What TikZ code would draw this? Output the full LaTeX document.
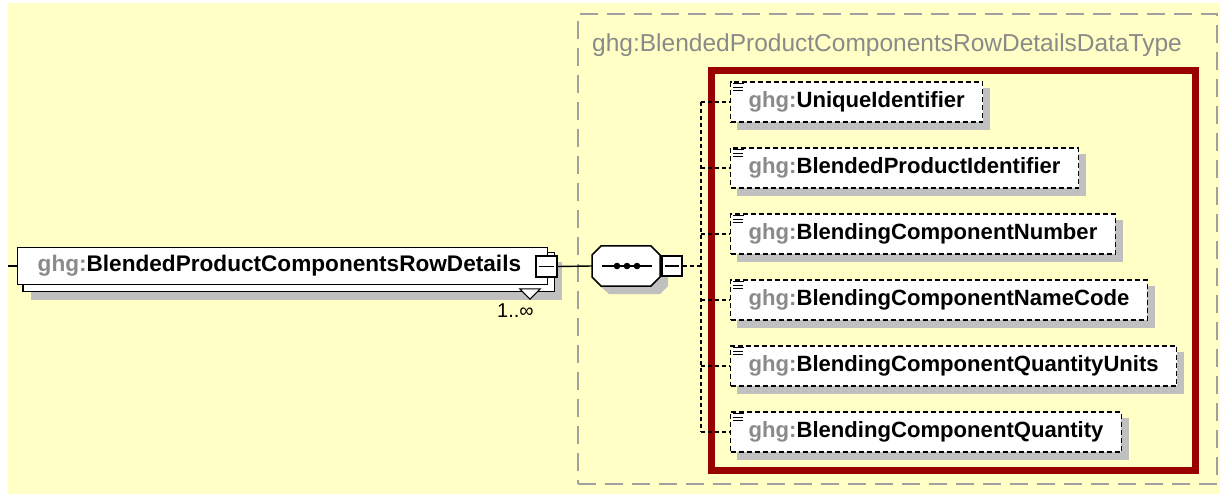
\documentclass[tikz,border=0pt]{standalone}
\usepackage{fontspec}
\setmainfont{Liberation Sans}
\usetikzlibrary{calc}
\definecolor{bgyellow}{HTML}{FFFFC6}
\definecolor{shadowc}{HTML}{C0C0C0}
\definecolor{typegray}{HTML}{A0A0A0}
\definecolor{prefgray}{HTML}{8A8A8A}
\definecolor{seqred}{HTML}{990000}
\pgfdeclarelayer{bg}
\pgfdeclarelayer{shade}
\pgfdeclarelayer{back}
\pgfsetlayers{bg,shade,back,main}
\newcommand{\pfx}{\textcolor{prefgray}{ghg:}}
\tikzset{
  elembox/.style={draw=black, fill=white, line width=1.4, minimum height=37, inner xsep=20, inner ysep=0,
    text width=490, align=left, font=\fontsize{22.6}{26}\selectfont\bfseries},
  childbox/.style={draw=black, fill=white, line width=1.4, dash pattern=on 5 off 3, minimum height=40,
    inner xsep=18, inner ysep=0, anchor=west, font=\fontsize{22.1}{26}\selectfont\bfseries},
  minusbox/.style={draw=black, fill=white, line width=1.4, minimum width=21, minimum height=21, inner sep=0},
  conn/.style={draw=black, line width=1.4},
  dconn/.style={draw=black, line width=1.4, dash pattern=on 4 off 3},
  iconline/.style={draw=black, line width=1.1},
}
\begin{document}
\begin{tikzpicture}[x=1pt,y=-1pt]
\useasboundingbox (0,0) rectangle (1220,494);
\begin{pgfonlayer}{bg}
  \fill[bgyellow] (8,3) rectangle (1220,494);
\end{pgfonlayer}

% type container and sequence border
\node[draw=typegray, line width=2, dash pattern=on 18 off 9, minimum width=639, minimum height=470, inner sep=0] (typebox) at (897.5,249) {};
\node[anchor=west, text=prefgray, font=\fontsize{24.5}{28}\selectfont, inner sep=0] (typetitle) at (592,45) {ghg:BlendedProductComponentsRowDetailsDataType};
\node[draw=seqred, line width=7, minimum width=484, minimum height=399, inner sep=0] (redbox) at (953,270.5) {};

% main element
\node[elembox, anchor=west] (main) at (17,266) {\pfx BlendedProductComponentsRowDetails};
\begin{pgfonlayer}{back}
  \filldraw[fill=white, draw=black, line width=1.4] ($(main.south west)+(6,6)$) rectangle ($(main.north east)+(6,6)$);
\end{pgfonlayer}
\begin{pgfonlayer}{shade}
  \fill[shadowc] ($(main.south west)+(14,15)$) rectangle ($(main.north east)+(14,15)$);
\end{pgfonlayer}
\node[minusbox] (m1) at (546.5,266.5) {};
\draw[conn] ($(m1.west)+(4,0)$) -- ($(m1.east)+(-4,0)$);
\node[inner sep=0, minimum width=20, minimum height=10] (tri) at (530,294) {};
\filldraw[fill=white, draw=black, line width=1.1] (tri.north west) -- (tri.north east) -- (tri.south) -- cycle;
\node[anchor=west, inner sep=0, font=\fontsize{20}{24}\selectfont] (card) at (497,311) {1..∞};

\coordinate (start) at (8,266);
\draw[conn] (start) -- (main.west);

% sequence compositor
\node[inner sep=0, minimum width=68, minimum height=40] (seq) at (626,266) {};
\begin{pgfonlayer}{shade}
  \fill[shadowc] (609,254) -- (660,254) -- (668,262) -- (668,286) -- (660,294) -- (609,294) -- (600,286) -- (600,262) -- cycle;
\end{pgfonlayer}
\filldraw[fill=white, draw=black, line width=1.5] (601,246) -- (651,246) -- (660,255) -- (660,277) -- (651,286) -- (601,286) -- (592,277) -- (592,255) -- cycle;
\draw[conn] (602,266) -- (652,266);
\foreach \dx in {617,627,637} \fill[black] (\dx,266) circle (3.3);
\node[minusbox, minimum width=20, minimum height=20] (m2) at (672,266) {};
\draw[conn] ($(m2.west)+(4,0)$) -- ($(m2.east)+(-4,0)$);
\draw[conn] (m1.east) -- (seq.west);
\draw[conn] (seq.east) -- (m2.west);
\coordinate (bus) at (701,266);
\draw[dconn] (m2.east) -- (bus);

% children
\node[childbox] (c1) at (730,102) {\pfx UniqueIdentifier};
\node[childbox] (c2) at (730,168) {\pfx BlendedProductIdentifier};
\node[childbox] (c3) at (730,234) {\pfx BlendingComponentNumber};
\node[childbox] (c4) at (730,300) {\pfx BlendingComponentNameCode};
\node[childbox] (c5) at (730,366) {\pfx BlendingComponentQuantityUnits};
\node[childbox] (c6) at (730,432) {\pfx BlendingComponentQuantity};
\foreach \c in {c1,c2,c3,c4,c5,c6}{
  \begin{pgfonlayer}{shade}
    \fill[shadowc] ($(\c.south west)+(7,7)$) rectangle ($(\c.north east)+(7,7)$);
  \end{pgfonlayer}
  \draw[iconline] ($(\c.north west)+(3,2.5)$) -- ($(\c.north west)+(14,2.5)$);
  \draw[iconline] ($(\c.north west)+(3,6)$) -- ($(\c.north west)+(13,6)$);
  \draw[iconline] ($(\c.north west)+(3,9.5)$) -- ($(\c.north west)+(13,9.5)$);
  \draw[dconn] (\c.west -| bus) -- (\c.west);
}
\draw[dconn] (c1.west -| bus) -- (c6.west -| bus);
\end{tikzpicture}
\end{document}
